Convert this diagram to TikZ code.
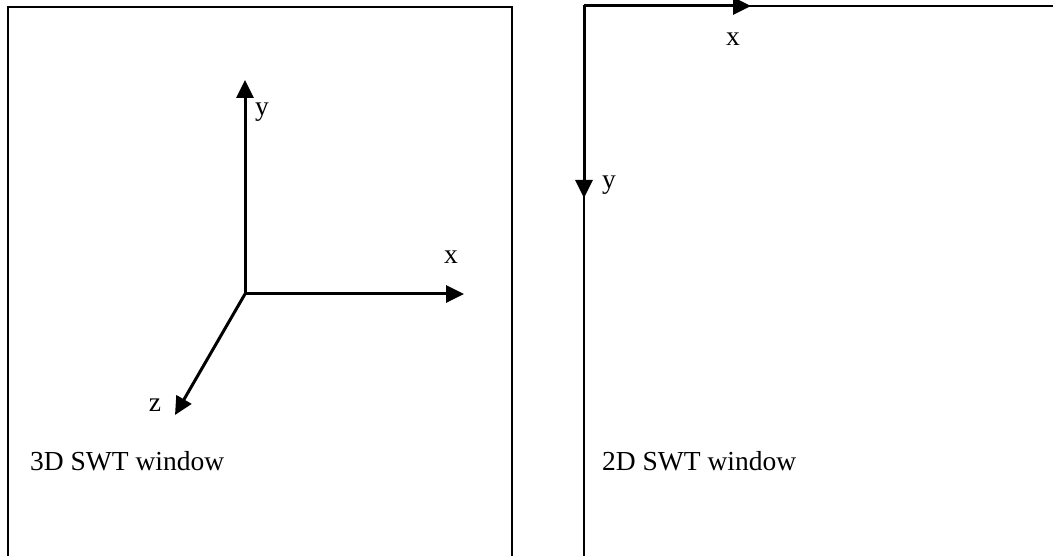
\documentclass[tikz,border=0pt]{standalone}
\usepackage{fontspec}
\setmainfont{Liberation Serif}
\usetikzlibrary{arrows.meta}
\begin{document}
\begin{tikzpicture}[x=1pt,y=-1pt,
  frame/.style={line width=2.3pt},
  axis/.style={line width=3pt,-{Triangle[length=18pt,width=17pt]}},
  lbl/.style={font=\fontsize{27.5}{31}\selectfont,inner sep=0pt}]
\useasboundingbox (0,0) rectangle (1053,556);
\clip (0,0) rectangle (1053,556);
% frames
\coordinate (lbl1) at (8,570);
\coordinate (ltl) at (8,7);
\coordinate (ltr) at (512,7);
\coordinate (lbr) at (512,570);
\draw[frame] (lbl1) -- (ltl) -- (ltr) -- (lbr);
\coordinate (rbl) at (584,570);
\coordinate (rtl) at (584,6);
\coordinate (rtr) at (1060,6);
\draw[frame] (rbl) -- (rtl) -- (rtr);
% 3D axes
\coordinate (O) at (245,294);
\coordinate (Y) at (245,80);
\coordinate (X) at (464,294);
\coordinate (Z) at (175,415);
\draw[axis] (O) -- (Y);
\draw[axis] (O) -- (X);
\draw[axis] (O) -- (Z);
\node[lbl] (ly) at (262,112) {y};
\node[lbl] (lx) at (451,257) {x};
\node[lbl] (lz) at (155,405) {z};
\node[lbl,anchor=west] (t3) at (30,461) {3D SWT window};
% 2D axes
\coordinate (O2) at (584,6);
\coordinate (X2) at (751,6);
\coordinate (Y2) at (584,198);
\draw[axis] (O2) -- (X2);
\draw[axis] (O2) -- (Y2);
\node[lbl] (lx2) at (733,39) {x};
\node[lbl] (ly2) at (609,185) {y};
\node[lbl,anchor=west] (t2) at (602,461) {2D SWT window};
\end{tikzpicture}
\end{document}
